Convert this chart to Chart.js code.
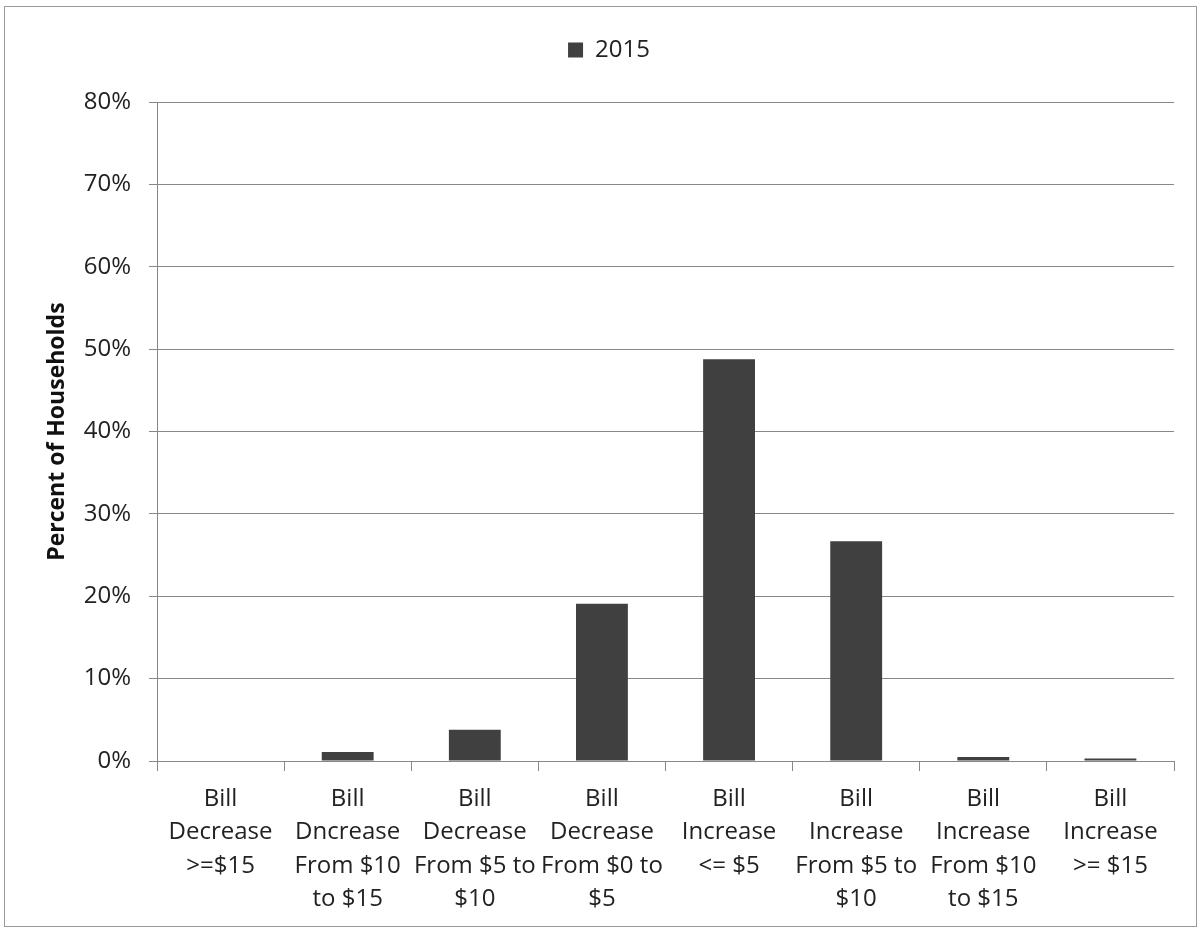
<!DOCTYPE html>
<html>
<head>
<meta charset="utf-8">
<script src="https://cdn.jsdelivr.net/npm/chart.js@4.4.1/dist/chart.umd.min.js"></script>
<style>
  html, body { margin: 0; padding: 0; background: #ffffff; }
  #wrap { position: absolute; left: 0; top: 0; width: 1202px; height: 932px; }
</style>
</head>
<body>
<div id="wrap"><canvas id="billChart"></canvas></div>
<script>
// Kategorien (mehrzeilige Achsenbeschriftungen)
const categories = [
  ["Bill", "Decrease", ">=$15"],
  ["Bill", "Dncrease", "From $10", "to $15"],
  ["Bill", "Decrease", "From $5 to", "$10"],
  ["Bill", "Decrease", "From $0 to", "$5"],
  ["Bill", "Increase", "<= $5"],
  ["Bill", "Increase", "From $5 to", "$10"],
  ["Bill", "Increase", "From $10", "to $15"],
  ["Bill", "Increase", ">= $15"]
];

// Werte 2015 (Prozent der Haushalte)
const values2015 = [0, 1.1, 3.8, 19.1, 48.8, 26.7, 0.5, 0.3];

const seriesLabel = "2015";
const yTitle = "Percent of Households";
const barColor = "#404040";
const fontFamily = "'Open Sans', Lato, sans-serif";

// Rahmen um das gesamte Diagramm
const framePlugin = {
  id: 'frame',
  beforeDraw(chart) {
    const ctx = chart.ctx;
    ctx.save();
    ctx.strokeStyle = "#9a9a9a";
    ctx.lineWidth = 1;
    ctx.strokeRect(4.5, 6.5, 1192, 920);
    ctx.restore();
  }
};

const ctx = document.getElementById('billChart').getContext('2d');
new Chart(ctx, {
  type: 'bar',
  data: {
    labels: categories,
    datasets: [{
      label: seriesLabel,
      data: values2015,
      backgroundColor: barColor,
      borderWidth: 0,
      barPercentage: 0.51,
      categoryPercentage: 0.8
    }]
  },
  options: {
    responsive: true,
    maintainAspectRatio: false,
    animation: false,
    layout: { padding: { left: 44, right: 28, top: 0, bottom: 0 } },
    plugins: {
      legend: {
        display: true,
        position: 'top',
        labels: {
          boxWidth: 15,
          boxHeight: 15,
          padding: 38,
          color: '#222',
          font: { family: fontFamily, size: 24 }
        }
      },
      // leerer Untertitel als Abstandhalter unter der Legende
      subtitle: {
        display: true,
        text: '',
        weight: 500,
        padding: { top: 29, bottom: 0 },
        font: { size: 1 }
      },
      tooltip: { enabled: false }
    },
    scales: {
      x: {
        grid: {
          offset: true,
          drawOnChartArea: false,
          tickLength: 10,
          color: '#888'
        },
        border: { color: '#888', width: 1 },
        ticks: {
          color: '#222',
          maxRotation: 0,
          autoSkip: false,
          padding: 11,
          font: { family: fontFamily, size: 24, lineHeight: 1.4 }
        },
        afterFit(scale) { scale.height = 171; }
      },
      y: {
        min: 0,
        max: 80,
        grid: { color: '#888', tickLength: 8 },
        border: { color: '#888', width: 1 },
        ticks: {
          stepSize: 10,
          color: '#222',
          padding: 18,
          font: { family: fontFamily, size: 24 },
          callback: v => v + '%'
        },
        title: {
          display: true,
          text: yTitle,
          color: '#111',
          padding: { top: 0, bottom: 0 },
          font: { family: fontFamily, size: 23, weight: 'bold' }
        },
        afterFit(scale) { scale.width = 113; }
      }
    }
  },
  plugins: [framePlugin]
});
</script>
</body>
</html>
